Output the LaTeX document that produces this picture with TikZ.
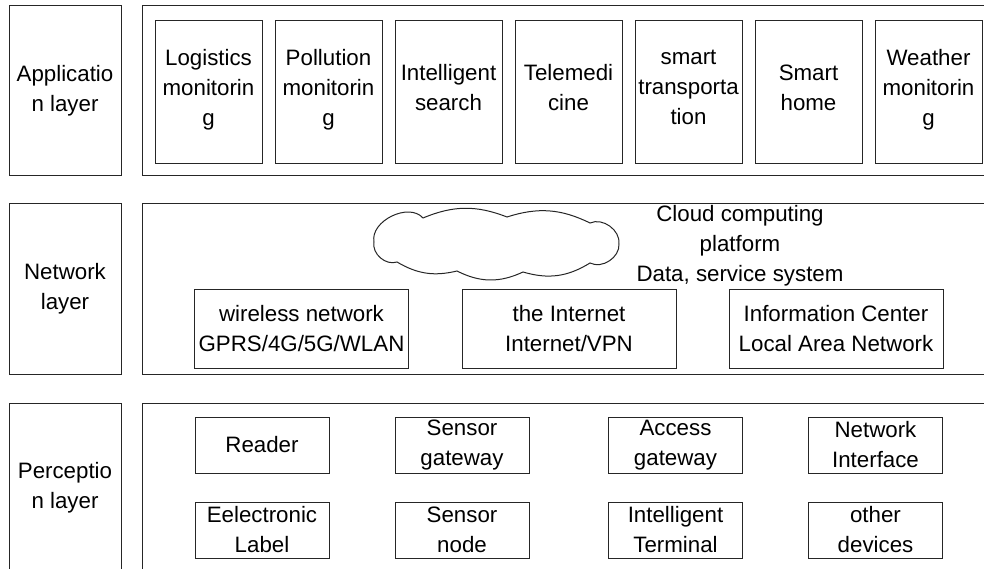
\documentclass[tikz,border=0pt]{standalone}
\usepackage{fontspec}
\setmainfont{Liberation Sans}
\usepackage{tikz}
\usetikzlibrary{positioning}
\tikzset{>=latex}
\tikzset{
    box/.style={draw=black!85, line width=1pt, align=center, inner sep=0pt, font=\fontsize{22.3}{30}\selectfont},
    layerbox/.style={box, minimum width=112, minimum height=170},
    framebox/.style={box, minimum width=850, minimum height=170},
    appbox/.style={box, minimum width=107, minimum height=143},
    netbox/.style={box, minimum width=214, minimum height=79},
    devbox/.style={box, minimum width=134, minimum height=56}
}

\begin{document}
\begin{tikzpicture}[x=1pt, y=-1pt]

\useasboundingbox[fill=white] (0,0) rectangle (984,569);

% layer names on the left
\node[layerbox] (applayer) at (65, 91) {Applicatio\\n layer};
\node[layerbox] (netlayer) at (65, 289) {Network\\layer};
\node[layerbox] (perclayer) at (65, 488) {Perceptio\\n layer};

% frames
\node[framebox, anchor=west] (appframe) at (142, 91) {};
\node[framebox, anchor=west] (netframe) at (142, 289) {};
\node[framebox, anchor=west] (percframe) at (142, 488) {};

% Application layer
\foreach \i/\txt in {0/{Logistics\\monitorin\\g}, 1/{Pollution\\monitorin\\g}, 2/{Intelligent\\search},
    3/{Telemedi\\cine}, 4/{smart\\transporta\\tion}, 5/{Smart\\home}, 6/{Weather\\monitorin\\g}}{
    \node[appbox] (app\i) at (208.5 + 120*\i, 92.5) {\txt\\[-20pt]};
}

% Network layer
% cloud
\draw[draw=black!85, line width=1pt] (374,242) to[bend left=75] (423,218) to[bend left=22] (507,217)
    to[bend left=22] (590,223) to[bend left=60] (619,244) to[bend left=60] (590,263)
    to[bend left=24] (523,272) to[bend left=26] (457,271) to[bend left=22] (397,262)
    to[bend left=60] cycle;
\node[box, draw=none] (cloudtext) at (740, 246) {Cloud computing\\platform\\Data, service system};

\node[netbox] (wireless) at (301.5, 328.5) {wireless network\\GPRS/4G/5G/WLAN};
\node[netbox] (internet) at (569, 328.5) {the Internet\\Internet/VPN};
\node[netbox] (lan) at (836, 328.5) {Information Center\\Local Area Network};

% Perception layer
\node[devbox] (reader) at (262, 445) {Reader};
\node[devbox] (sensgw) at (462, 445) {Sensor\\gateway};
\node[devbox] (accgw) at (675.5, 445) {Access\\gateway};
\node[devbox] (netif) at (875.5, 445) {Network\\Interface};

\node[devbox] (elabel) at (262, 530) {Eelectronic\\Label};
\node[devbox] (sensnode) at (462, 530) {Sensor\\node};
\node[devbox] (terminal) at (675.5, 530) {Intelligent\\Terminal};
\node[devbox] (other) at (875.5, 530) {other\\devices};

\end{tikzpicture}
\end{document}
